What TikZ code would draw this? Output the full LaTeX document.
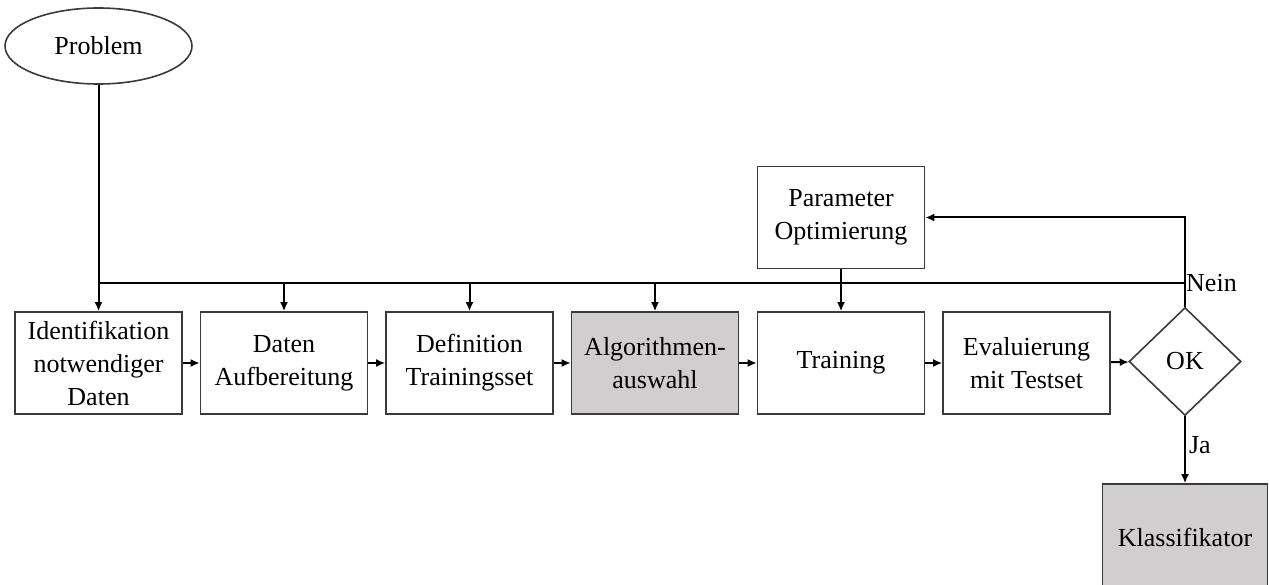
\documentclass[tikz,border=0pt]{standalone}
\usepackage{fontspec}
\setmainfont{Liberation Serif}
\usetikzlibrary{arrows.meta,shapes.geometric}
\definecolor{boxgray}{HTML}{D0CECE}
\definecolor{edgegray}{HTML}{3A3A3A}
\begin{document}
\begin{tikzpicture}[x=1pt,y=-1pt,
  lbl/.style={font=\fontsize{26}{33}\selectfont},
  box/.style={lbl, draw=edgegray, line width=1.6pt, minimum width=167pt, minimum height=102pt, align=center, inner sep=0pt},
  graybox/.style={box, fill=boxgray},
  conn/.style={line width=2pt, -{Latex[length=9pt,width=8pt]}},
  wire/.style={line width=2pt}
]
\clip (0,0) rectangle (1269,585);
\fill[white] (0,0) rectangle (1269,585);

\node[lbl, draw=edgegray, line width=1.6pt, ellipse, minimum width=187pt, minimum height=76pt, inner sep=0pt] (prob) at (98.5,46) {Problem};

\node[box] (b1) at (98.5,363) {Identifikation\\notwendiger\\Daten};
\node[box] (b2) at (284,363) {Daten\\Aufbereitung};
\node[box] (b3) at (469.5,363) {Definition\\Trainingsset};
\node[graybox] (b4) at (655,363) {Algorithmen-\\auswahl};
\node[box] (b5) at (841,363) {Training};
\node[box] (b6) at (1026.5,363) {Evaluierung\\mit Testset};
\node[lbl, draw=edgegray, line width=1.6pt, diamond, minimum width=112pt, minimum height=108pt, inner sep=0pt] (ok) at (1185,361.5) {OK};
\node[box] (param) at (841,217.5) {Parameter\\Optimierung};
\node[graybox, minimum width=165pt, minimum height=106pt] (klass) at (1185,537) {Klassifikator};

\coordinate (busL) at (98.5,283);
\coordinate (busR) at (1185,283);

\draw[conn] (prob) -- (b1);
\draw[wire] (busL) -- (busR);
\draw[conn] (b2 |- busL) -- (b2);
\draw[conn] (b3 |- busL) -- (b3);
\draw[conn] (b4 |- busL) -- (b4);
\draw[conn] (param) -- (b5);
\draw[conn] (ok.north) |- (param.east);
\node[lbl, anchor=west, inner sep=1pt] (nein) at (busR) {Nein};

\draw[conn] (b1) -- (b2);
\draw[conn] (b2) -- (b3);
\draw[conn] (b3) -- (b4);
\draw[conn] (b4) -- (b5);
\draw[conn] (b5) -- (b6);
\draw[conn] (b6) -- (ok);
\draw[conn] (ok) -- node[lbl, right, inner sep=3pt, yshift=5pt] (ja) {Ja} (klass);
\end{tikzpicture}
\end{document}
